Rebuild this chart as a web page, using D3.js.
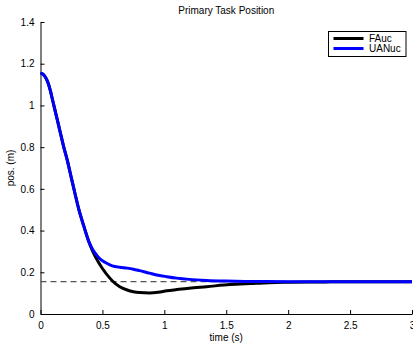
<!DOCTYPE html>
<html><head><meta charset="utf-8">
<script src="https://cdn.jsdelivr.net/npm/d3@7"></script>
<style>
body{margin:0;background:#fff;}
text{font-family:"Liberation Sans",Arial,Helvetica,sans-serif;}
</style></head>
<body><svg id="c" width="413" height="345"></svg>
<script>
const title = "Primary Task Position";
const xLabel = "time (s)";
const yLabel = "pos. (m)";
const xTicks = [0, 0.5, 1, 1.5, 2, 2.5, 3];
const yTicks = [0, 0.2, 0.4, 0.6, 0.8, 1, 1.2, 1.4];
const seriesNames = ["FAuc", "UANuc"];
const seriesColors = ["#000000", "#0000ff"];
const refValue = 0.155;

const blueT = [0,0.02,0.04,0.06,0.08,0.1,0.13,0.16,0.19,0.216,0.25,0.278,0.31,0.351,0.394,0.42,0.45,0.48,0.52,0.56,0.6,0.64,0.7,0.75,0.8,0.88,0.95,1.02,1.1,1.2,1.34,1.5,1.7,2,2.5,3];
const blueY = [1.155,1.15,1.135,1.11,1.07,1.02,0.945,0.87,0.795,0.738,0.65,0.579,0.5,0.419,0.342,0.31,0.285,0.265,0.248,0.236,0.228,0.224,0.22,0.215,0.208,0.196,0.186,0.179,0.172,0.166,0.161,0.158,0.156,0.155,0.155,0.155];
const blackT = [0,0.02,0.04,0.06,0.08,0.1,0.13,0.16,0.19,0.216,0.25,0.278,0.31,0.351,0.394,0.42,0.46,0.5,0.56,0.6,0.64,0.7,0.75,0.8,0.88,0.95,1.02,1.1,1.2,1.34,1.53,1.7,1.85,2,2.3,2.6,3];
const blackY = [1.155,1.15,1.135,1.11,1.07,1.02,0.945,0.87,0.795,0.738,0.65,0.579,0.5,0.419,0.34,0.302,0.256,0.218,0.172,0.148,0.131,0.115,0.107,0.103,0.101,0.104,0.111,0.117,0.124,0.131,0.141,0.146,0.15,0.152,0.154,0.155,0.155];

const svg = d3.select("#c");
const m = {l:40.5, r:412, t:22, b:314};
const x = d3.scaleLinear().domain([0,3]).range([m.l, m.r]);
const y = d3.scaleLinear().domain([0,1.4]).range([m.b, m.t]);

const xa = svg.append("g").attr("transform",`translate(0,${m.b})`)
  .call(d3.axisBottom(x).tickValues(xTicks).tickSizeInner(-4).tickSizeOuter(0).tickPadding(8).tickFormat(d3.format("~g")));
const ya = svg.append("g").attr("transform",`translate(${m.l},0)`)
  .call(d3.axisLeft(y).tickValues(yTicks).tickSizeInner(-4).tickSizeOuter(0).tickPadding(6).tickFormat(d3.format("~g")));
[xa,ya].forEach(a=>{
  a.selectAll("text").attr("font-size",10).attr("fill","#000").attr("font-family","Liberation Sans, Arial, sans-serif");
  a.selectAll("line").attr("stroke","#000");
  a.select(".domain").attr("stroke","#000");
});

svg.append("line").attr("x1",x(0)).attr("x2",x(3)).attr("y1",y(refValue)).attr("y2",y(refValue))
  .attr("stroke","#555").attr("stroke-width",1.2).attr("stroke-dasharray","6,4");

const line = d3.line().x(d=>x(d[0])).y(d=>y(d[1])).curve(d3.curveMonotoneX);
const blackData = blackT.map((t,i)=>[t,blackY[i]]);
const blueData = blueT.map((t,i)=>[t,blueY[i]]);
svg.append("path").datum(blackData).attr("d",line).attr("fill","none").attr("stroke",seriesColors[0]).attr("stroke-width",3);
svg.append("path").datum(blueData).attr("d",line).attr("fill","none").attr("stroke",seriesColors[1]).attr("stroke-width",3);

svg.append("text").attr("x",(m.l+m.r)/2).attr("y",14).attr("text-anchor","middle").attr("font-size",10).text(title);
svg.append("text").attr("x",(m.l+m.r)/2).attr("y",341).attr("text-anchor","middle").attr("font-size",10).text(xLabel);
svg.append("text").attr("transform",`translate(14,${(m.t+m.b)/2}) rotate(-90)`).attr("text-anchor","middle").attr("font-size",10).text(yLabel);

const lg = svg.append("g");
lg.append("rect").attr("x",328.5).attr("y",31.5).attr("width",77.5).attr("height",25).attr("fill","#fff").attr("stroke","#000").attr("stroke-width",1);
seriesNames.forEach((n,i)=>{
  const yy = 38.5 + i*10;
  lg.append("line").attr("x1",333.5).attr("x2",363.5).attr("y1",yy).attr("y2",yy).attr("stroke",seriesColors[i]).attr("stroke-width",3);
  lg.append("text").attr("x",369).attr("y",yy+3.5).attr("font-size",10).text(n);
});
</script></body></html>
